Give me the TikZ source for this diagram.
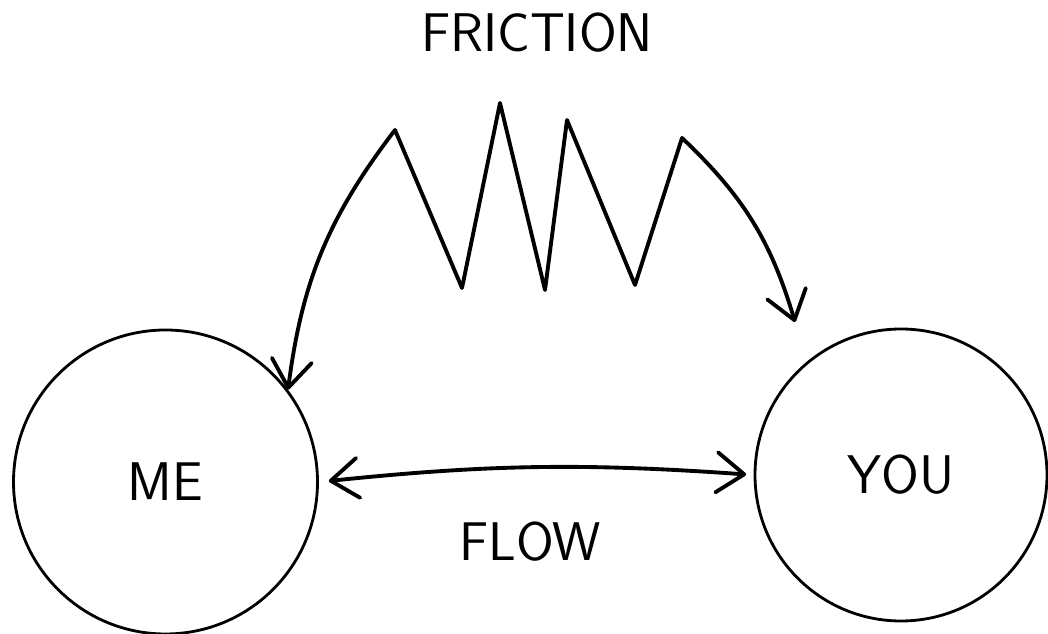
\documentclass[tikz,border=0pt]{standalone}
\usetikzlibrary{arrows.meta}
\begin{document}
\begin{tikzpicture}[
    person/.style={circle, draw, line width=1.6pt, inner sep=0pt, font=\sffamily\fontsize{31}{36}\selectfont},
    sketch/.style={line width=2.2pt, line join=round, line cap=round,
        {Straight Barb[round, length=5.5mm, width=8mm]}-{Straight Barb[round, length=5.5mm, width=8mm]}},
    lbl/.style={font=\sffamily\fontsize{31}{36}\selectfont}
]
    \useasboundingbox (0,0) rectangle (20.96,12.68);

    % People
    \node[person, minimum size=6.08cm] (me) at (3.31,3.04) {ME};
    \node[person, minimum size=5.84cm] (you) at (18.02,3.18) {YOU};

    % Flow: straight exchange
    \draw[sketch, shorten <=2mm, shorten >=1.5mm] (me.east) to[bend left=5] (you.west);
    \node[lbl] (flow) at (10.60,1.84) {FLOW};

    % Friction: zigzag detour
    \coordinate (fend) at (15.90,6.24);
    \draw[sketch] (me.37) to[bend left=15] (7.90,10.08)
        -- (9.24,6.92) -- (10.00,10.62) -- (10.90,6.88)
        -- (11.34,10.28) -- (12.70,6.98) -- (13.64,9.92)
        to[bend left=15] (fend);
    \node[lbl] (friction) at (10.74,12.02) {FRICTION};
\end{tikzpicture}
\end{document}
